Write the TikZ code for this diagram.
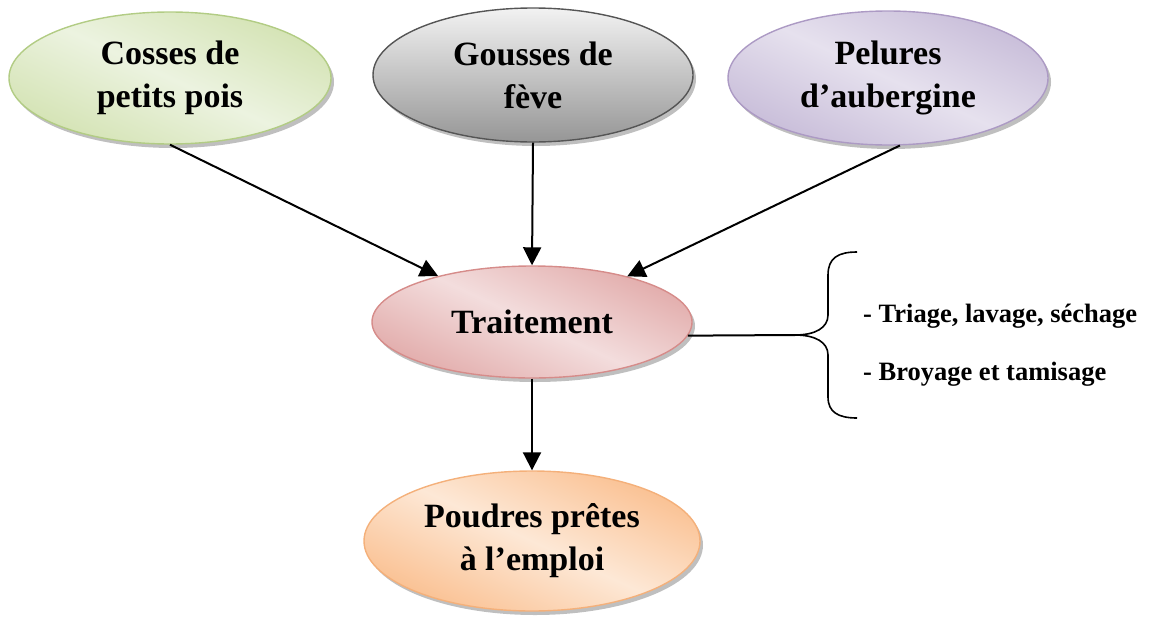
\documentclass[tikz,border=0pt]{standalone}
\usepackage{fontspec}
\setmainfont{Liberation Serif}
\usetikzlibrary{positioning, shapes.geometric, shadows, arrows.meta}
\definecolor{peaedge}{RGB}{212,227,180}
\definecolor{peamid}{RGB}{236,243,224}
\definecolor{pealine}{RGB}{178,204,132}
\definecolor{favatop}{RGB}{242,242,242}
\definecolor{favabot}{RGB}{150,150,150}
\definecolor{favaline}{RGB}{85,85,85}
\definecolor{aubedge}{RGB}{200,189,217}
\definecolor{aubmid}{RGB}{230,225,238}
\definecolor{aubline}{RGB}{172,154,196}
\definecolor{trtedge}{RGB}{226,172,171}
\definecolor{trtmid}{RGB}{243,221,221}
\definecolor{trtline}{RGB}{214,140,138}
\definecolor{powedge}{RGB}{250,192,145}
\definecolor{powmid}{RGB}{253,232,214}
\definecolor{powline}{RGB}{244,176,122}

\tikzset{
  blob/.style={ellipse, draw, line width=1.4pt, inner sep=0pt, align=center,
    font=\fontsize{34}{43}\selectfont\bfseries,
    drop shadow={shadow xshift=3pt, shadow yshift=-4pt, opacity=.5, fill=black!50}},
  peablob/.style={blob, draw=pealine, top color=peaedge, bottom color=peaedge, middle color=peamid, shading angle=-25},
  favablob/.style={blob, draw=favaline, top color=favatop, bottom color=favabot},
  aubblob/.style={blob, draw=aubline, top color=aubedge, bottom color=aubedge, middle color=aubmid, shading angle=-25},
  trtblob/.style={blob, draw=trtline, top color=trtedge, bottom color=trtedge, middle color=trtmid, shading angle=-25},
  powblob/.style={blob, draw=powline, top color=powedge, bottom color=powedge, middle color=powmid, shading angle=-25},
  flow/.style={line width=2pt, -{Triangle[length=18pt,width=18pt]}},
  steptext/.style={anchor=base west, inner sep=0pt, font=\fontsize{26.5}{30}\selectfont\bfseries},
}

\begin{document}
\begin{tikzpicture}[x=1pt, y=-1pt]
                \useasboundingbox (0,0) rectangle (1155,616);
                \node[peablob, minimum width=322pt, minimum height=132pt] (cos) at (170,78) {Cosses de\\petits pois};
                \node[favablob, minimum width=320pt, minimum height=134pt] (gou) at (533,75) {Gousses de\\fève};
                \node[aubblob, minimum width=320pt, minimum height=134pt] (pel) at (888,78) {Pelures\\d’aubergine};
                \node[trtblob, minimum width=320pt, minimum height=112pt] (trt) at (532,322) {Traitement};
                \node[powblob, minimum width=336pt, minimum height=140pt] (pou) at (532,541) {Poudres prêtes\\à l’emploi};
                \draw[flow] (cos.south) -- (trt);
                \draw[flow] (gou.south) -- (trt.north);
                \draw[flow] (pel.-80) -- (trt);
                \draw[flow] (trt.south) -- (pou.north);
                \coordinate (tip) at (795,335);
                \draw[line width=2pt] (trt.-5) -- (tip);
                \draw[line width=1.6pt] (857,252) .. controls (838,252) and (828,258) .. (828,275) -- (828,315)
                    .. controls (828,328) and (815,335) .. (tip)
                    .. controls (815,335) and (828,342) .. (828,355) -- (828,397)
                    .. controls (828,412) and (838,418) .. (857,418);
                \node[steptext] (tri) at (863,322) {- Triage, lavage, séchage};
                \node[steptext] (bro) at (863,380) {- Broyage et tamisage};
            \end{tikzpicture}
\end{document}
